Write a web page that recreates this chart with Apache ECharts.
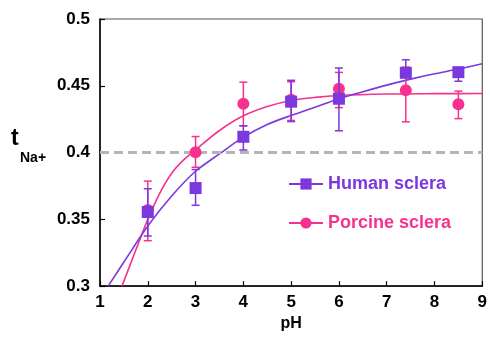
<!DOCTYPE html>
<html>
<head>
<meta charset="utf-8">
<script src="https://cdn.jsdelivr.net/npm/echarts@6/dist/echarts.min.js"></script>
<style>
  html, body { margin: 0; padding: 0; background: #fff; }
  #chart { width: 490px; height: 337px; }
</style>
</head>
<body>
<div id="chart"></div>
<script>
const HUMAN_COLOR = "#7b38de";
const PORCINE_COLOR = "#f7318f";

// measured points
const humanPH = [2, 3, 4, 5, 6, 7.4, 8.5];
const humanT = [0.3555, 0.3734, 0.4118, 0.4381, 0.4403, 0.4597, 0.4602];
const humanLow = [0.3375, 0.3605, 0.4019, 0.4232, 0.4163, 0.4565, 0.4534];
const humanHigh = [0.3729, 0.3873, 0.42, 0.4541, 0.4633, 0.4695, 0.4635];

const porcinePH = [2, 3, 4, 5, 6, 7.4, 8.5];
const porcineT = [0.357, 0.4002, 0.4366, 0.4395, 0.4477, 0.4467, 0.4362];
const porcineLow = [0.334, 0.389, 0.42, 0.424, 0.4336, 0.423, 0.4254];
const porcineHigh = [0.3786, 0.412, 0.4527, 0.453, 0.46, 0.464, 0.446];

// fitted curves
const humanFitPH = [1.17, 1.5, 2, 2.5, 3, 3.5, 4, 4.5, 5, 5.5, 6, 6.5, 7, 7.5, 8, 8.5, 9];
const humanFitT = [0.3, 0.318, 0.345, 0.3675, 0.386, 0.399, 0.4115, 0.421, 0.4278, 0.434, 0.4403,
  0.4455, 0.4505, 0.455, 0.459, 0.4625, 0.4665];
const porcineFitPH = [1.46, 1.75, 2, 2.25, 2.5, 2.75, 3, 3.5, 4, 4.5, 5, 5.5, 6, 7, 8, 9];
const porcineFitT = [0.3, 0.327, 0.35, 0.3695, 0.3845, 0.3945, 0.402, 0.4165, 0.4275, 0.4345, 0.439,
  0.4413, 0.4427, 0.4438, 0.4441, 0.4442];

const referenceT = 0.4;

const zip = (xs, ...cols) => xs.map((x, i) => [x, ...cols.map((c) => c[i])]);

function errorBars(color) {
  return function (params, api) {
    const x = api.value(0);
    const lo = api.coord([x, api.value(1)]);
    const hi = api.coord([x, api.value(2)]);
    const w = 4;
    const style = { stroke: color, lineWidth: 1.5, fill: null };
    return {
      type: "group",
      children: [
        { type: "line", shape: { x1: lo[0], y1: lo[1], x2: hi[0], y2: hi[1] }, style },
        { type: "line", shape: { x1: lo[0] - w, y1: lo[1], x2: lo[0] + w, y2: lo[1] }, style },
        { type: "line", shape: { x1: hi[0] - w, y1: hi[1], x2: hi[0] + w, y2: hi[1] }, style },
      ],
    };
  };
}

const font = "'Liberation Sans', Arial, sans-serif";

const chart = echarts.init(document.getElementById("chart"));
chart.setOption({
  animation: false,
  grid: {
    left: 100, right: 3, top: 19, bottom: 49,
    show: true, borderColor: "#555", borderWidth: 1.2,
  },
  legend: {
    orient: "vertical",
    left: 283, top: 170,
    itemWidth: 34, itemHeight: 14, itemGap: 21,
    textStyle: { fontFamily: font, fontWeight: "bold", fontSize: 18 },
    data: [
      { name: "Human sclera", textStyle: { color: HUMAN_COLOR } },
      { name: "Porcine sclera", textStyle: { color: PORCINE_COLOR } },
    ],
  },
  graphic: [
    { type: "text", left: 11, top: 127, style: { text: "t", font: "bold 23px " + font, fill: "#000" } },
    { type: "text", left: 20, top: 151, style: { text: "Na+", font: "bold 14px " + font, fill: "#000" } },
  ],
  xAxis: {
    type: "value", min: 1, max: 9, interval: 1,
    name: "pH", nameLocation: "middle", nameGap: 29,
    nameTextStyle: { fontFamily: font, fontWeight: "bold", fontSize: 16, color: "#000" },
    axisLine: { lineStyle: { color: "#000", width: 1.5 } },
    axisTick: { inside: true, length: 5, lineStyle: { color: "#000", width: 1.2 } },
    axisLabel: { fontFamily: font, fontWeight: "bold", fontSize: 17, color: "#000", margin: 8 },
    splitLine: { show: false },
  },
  yAxis: {
    type: "value", min: 0.3, max: 0.5, interval: 0.05,
    axisLine: { show: true, lineStyle: { color: "#000", width: 1.5 } },
    axisTick: { show: true, inside: true, length: 5, lineStyle: { color: "#000", width: 1.2 } },
    axisLabel: { fontFamily: font, fontWeight: "bold", fontSize: 17, color: "#000", margin: 10 },
    splitLine: { show: false },
  },
  series: [
    {
      name: "ref", type: "line", data: [], silent: true,
      markLine: {
        silent: true, symbol: "none", label: { show: false },
        lineStyle: { color: "#b5b5b5", width: 3, type: [9, 5] },
        data: [{ yAxis: referenceT }],
      },
    },
    {
      name: "Porcine sclera", type: "line", smooth: 0.3,
      symbol: "circle", showSymbol: false,
      itemStyle: { color: PORCINE_COLOR },
      lineStyle: { color: PORCINE_COLOR, width: 1.6 },
      data: zip(porcineFitPH, porcineFitT), z: 3,
    },
    {
      name: "Human sclera", type: "line", smooth: 0.3,
      symbol: "rect", showSymbol: false,
      itemStyle: { color: HUMAN_COLOR },
      lineStyle: { color: HUMAN_COLOR, width: 1.6 },
      data: zip(humanFitPH, humanFitT), z: 3,
    },
    {
      name: "porcine err", type: "custom", renderItem: errorBars(PORCINE_COLOR),
      data: zip(porcinePH, porcineLow, porcineHigh), z: 4,
    },
    {
      name: "porcine pts", type: "scatter", symbol: "circle", symbolSize: 12,
      itemStyle: { color: PORCINE_COLOR, opacity: 1 },
      data: zip(porcinePH, porcineT), z: 5,
    },
    {
      name: "human err", type: "custom", renderItem: errorBars(HUMAN_COLOR),
      data: zip(humanPH, humanLow, humanHigh), z: 6,
    },
    {
      name: "human pts", type: "scatter", symbol: "rect", symbolSize: 12,
      itemStyle: { color: HUMAN_COLOR, opacity: 1 },
      data: zip(humanPH, humanT), z: 7,
    },
  ],
});
</script>
</body>
</html>
